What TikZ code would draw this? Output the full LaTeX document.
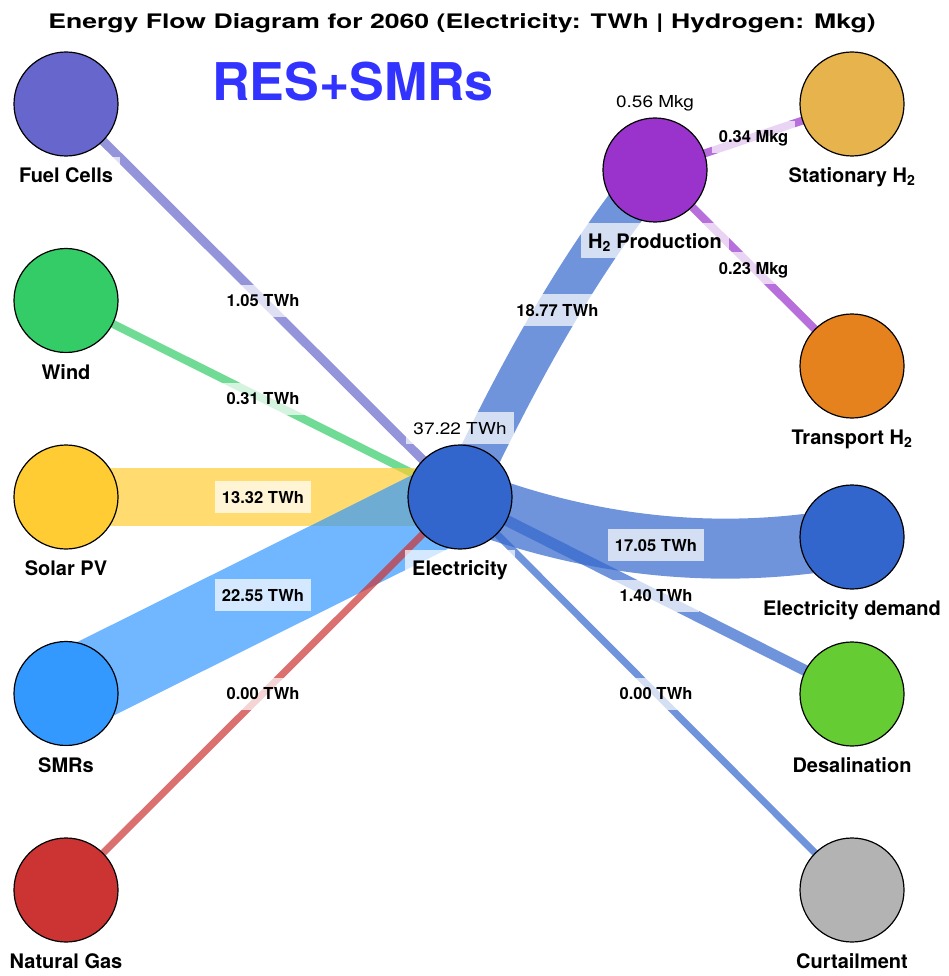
\documentclass[tikz,border=0pt]{standalone}
\usepackage{fontspec}
\setmainfont{TeX Gyre Heros}
\usetikzlibrary{positioning,backgrounds}

\definecolor{fccol}{RGB}{102,102,204}
\definecolor{windcol}{RGB}{51,204,102}
\definecolor{pvcol}{RGB}{255,204,51}
\definecolor{smrcol}{RGB}{51,153,255}
\definecolor{gascol}{RGB}{204,51,51}
\definecolor{eleccol}{RGB}{51,102,204}
\definecolor{htwocol}{RGB}{153,51,204}
\definecolor{statcol}{RGB}{230,179,77}
\definecolor{transcol}{RGB}{230,130,30}
\definecolor{desalcol}{RGB}{102,204,51}
\definecolor{curtcol}{RGB}{179,179,179}
\definecolor{rescol}{RGB}{51,51,255}

\tikzset{
  hub/.style={circle,draw=black,line width=1.2pt,minimum size=104pt,inner sep=0pt,label distance=2pt},
  tag/.style={fill=white,fill opacity=0.7,text opacity=1,text=black,inner xsep=7pt,inner ysep=5pt},
  unitlab/.style={tag,font=\bfseries\fontsize{20}{24}\selectfont,text height=21pt,text depth=4pt},
  vallab/.style={tag,font=\fontsize{16.5}{20}\selectfont,text height=17pt,text depth=5pt},
  flowlab/.style={tag,midway,font=\bfseries\fontsize{16.5}{20}\selectfont,text height=17pt,text depth=5pt},
  band/.style={draw=#1,draw opacity=0.7,line cap=butt},
  headline/.style={anchor=base,font=\bfseries\fontsize{20}{24}\selectfont},
  scenario/.style={anchor=base,text=rescol,font=\bfseries\fontsize{52}{60}\selectfont}
}

\begin{document}
\begin{tikzpicture}[x=1pt,y=-1pt,node distance=196.5pt,on grid]
\useasboundingbox (0,0) rectangle (949,976);

\node[headline] (head) at (462,28.5) {\scalebox{1.33}[1]{Energy Flow Diagram for 2060 (Electricity: TWh | Hydrogen: Mkg)}};
\node[scenario] (scen) at (353,101) {RES+SMRs};

% sources
\node[hub,fill=fccol,label={[unitlab]below:Fuel Cells}] (fc) at (66,104) {};
\node[hub,fill=windcol,label={[unitlab]below:Wind}] (wind) [below=of fc] {};
\node[hub,fill=pvcol,label={[unitlab]below:Solar PV}] (pv) [below=of wind] {};
\node[hub,fill=smrcol,label={[unitlab]below:SMRs}] (smr) [below=of pv] {};
\node[hub,fill=gascol,label={[unitlab]below:Natural Gas}] (gas) [below=of smr] {};

% hubs
\node[hub,fill=eleccol,label={[unitlab]below:Electricity},label={[vallab]above:{\scalebox{1.15}[1]{37.22 TWh}}}] (elec) at (460,497) {};
\node[hub,fill=htwocol,label={[unitlab]below:{H\textsubscript{2} Production}},label={[vallab]above:{\scalebox{1.15}[1]{0.56 Mkg}}}] (h2) at (655,170) {};

% sinks
\node[hub,fill=statcol,label={[unitlab]below:{Stationary H\textsubscript{2}}}] (stat) at (852,104) {};
\node[hub,fill=transcol,label={[unitlab]below:{Transport H\textsubscript{2}}}] (trans) at (852,366) {};
\node[hub,fill=eleccol,label={[unitlab]below:Electricity demand}] (dem) at (852,537) {};
\node[hub,fill=desalcol,label={[unitlab]below:Desalination}] (desal) at (852,694) {};
\node[hub,fill=curtcol,label={[unitlab]below:Curtailment}] (curt) at (852,890) {};

\begin{scope}[on background layer]
% into electricity
\path (fc.center) edge[band=fccol,line width=9pt] node[flowlab]{1.05 TWh} (elec.center);
\path (wind.center) edge[band=windcol,line width=8pt] node[flowlab]{0.31 TWh} (elec.center);
\path (pv.center) edge[band=pvcol,line width=58pt] node[flowlab]{13.32 TWh} (elec.center);
\path (smr.center) edge[band=smrcol,line width=82pt] node[flowlab]{22.55 TWh} (elec.center);
\path (gas.center) edge[band=gascol,line width=7pt] node[flowlab]{0.00 TWh} (elec.center);
% out of electricity
\draw[band=eleccol,line width=42pt] (elec.center) .. controls (525,357) and (590,248) .. node[flowlab]{18.77 TWh} (h2.center);
\draw[band=eleccol,line width=60pt] (elec.center) .. controls (591,548) and (721,561) .. node[flowlab]{17.05 TWh} (dem.center);
\path (elec.center) edge[band=eleccol,line width=11pt] node[flowlab]{1.40 TWh} (desal.center);
\path (elec.center) edge[band=eleccol,line width=7pt] node[flowlab]{0.00 TWh} (curt.center);
% hydrogen
\path (h2.center) edge[band=htwocol,line width=8pt] node[flowlab]{0.34 Mkg} (stat.center);
\path (h2.center) edge[band=htwocol,line width=8pt] node[flowlab]{0.23 Mkg} (trans.center);
\end{scope}
\end{tikzpicture}
\end{document}
